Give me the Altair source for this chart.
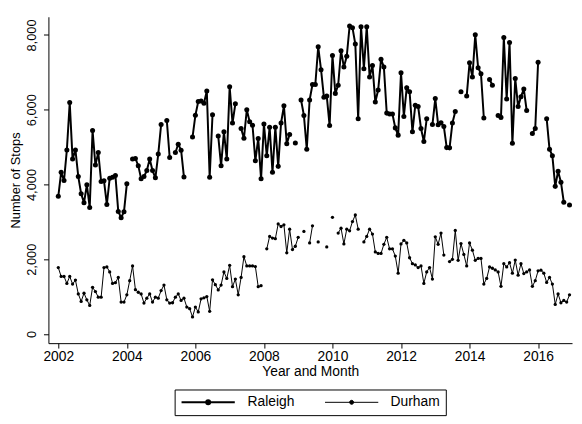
import altair as alt
import pandas as pd

# Monthly observations, Jan 2002 .. Dec 2016 (None = missing month)
raleigh = [
    3685, 4327, 4107, 4925, 6192, 4680, 4925, 4213, 3755, 3510, 3993, 3386,
    5444, 4520, 4855, 4081, 4100, 3465, 4169, 4195, 4240, 3280, 3113, 3272,
    4019, None, 4681, 4697, 4504, 4153, 4214, 4372, 4681, 4372, 4179, 4813,
    5604, None, 5710, 4723, None, 4855, 5077, 4918, 4200, None, None, 5270,
    5850, 6220, 6237, 6174, 6500, 4195, 5868, None, 5296, 4504, 5409, 4681,
    6615, 5646, 6158, None, 5500, 5235, 6000, 5680, 5585, 4635, 5233, 4151,
    5620, 4767, 5532, 4327, 5532, 4485, 5646, 6104, 5092, 5338, None, 5110,
    None, 6262, 5849, 4943, 6262, 6675, 6675, 7687, 7071, 6332, 6367, 5576,
    7449, 6438, 6658, 7581, 7142, 7432, 8241, 8197, 7757, 5761, 8223, 7098,
    8223, 6878, 7186, 6210, 6526, 7350, 7142, 5910, 5884, 5884, 5515, 5321,
    6992, 5822, 6588, 6482, 5409, 6120, 6086, 5499, 5150, 5762, None, 5604,
    6300, 5600, 5650, 5550, 4987, 4980, 5646, 5955, None, 6482, None, 6370,
    7256, 6878, 8004, 7124, 6966, 5778, None, 6808, 6658, None, 5849, 5796,
    7933, 6289, 7801, 5101, 6834, 6086, 6350, 6552, 5980, None, 5367, 5499,
    7273, None, None, 5762, 4944, 4768, 3950, 4354, 4063, 3528, None, 3449,
]
durham = [
    1777, 1539, 1539, 1354, 1539, 1337, 1442, 1073, 871, 1091, 915, 765,
    1249, 1135, 985, 985, 1777, 1794, 1662, 1354, 1372, 1513, 853, 853,
    1047, 1425, 1821, 1187, 1117, 1073, 827, 959, 1073, 853, 985, 959,
    1161, 1310, 915, 827, 836, 985, 1073, 897, 959, 721, 677, 457,
    721, 589, 941, 967, 1003, 607, 1451, 1319, 1179, 1310, 1662, 1486,
    1838, 1266, 1469, 1047, 1513, 2067, 1821, 1821, 1821, 1803, 1266, 1293,
    None, 2278, 2612, 2568, 2551, 2946, 2876, 2920, 2172, 2806, 2260, 2348,
    2586, None, 2744, None, 2436, 2894, None, 2463, None, None, 2331, None,
    3122, None, 2700, 2832, 2410, 2806, 2762, 3008, 3184, 2806, None, 2463,
    2612, 2806, 2674, 2195, 2155, 2155, 2400, 2586, 2278, 2278, 2084, 1627,
    2410, 2507, 2436, 2040, 1882, 1847, 1777, 1821, 1354, 1662, 1778, 1470,
    2600, 2400, 2700, 2111, None, 1937, 1997, 2770, 1970, 2419, 2128, 1821,
    2436, 2243, 1970, 2023, 2023, 1337, 1486, 1794, 1759, 1715, 1662, 1275,
    1882, 1794, 1909, 1627, 1979, 1574, 1882, 1618, 1662, 1715, 1275, 1425,
    1689, 1706, 1627, 1381, 1513, 1337, 792, 1073, 836, 897, 853, 1047,
]
cities = ["Raleigh", "Durham"]
x_ticks = [2002, 2004, 2006, 2008, 2010, 2012, 2014, 2016]
y_ticks = [0, 2000, 4000, 6000, 8000]

rows = []
for city, series in zip(cities, [raleigh, durham]):
    for i, v in enumerate(series):
        rows.append({"t": 2002 + i / 12.0, "city": city, "stops": v})
df = pd.DataFrame(rows)

FONT = "Liberation Sans"

x_enc = alt.X(
    "t:Q",
    scale=alt.Scale(domain=[2001.712, 2016.99], nice=False, zero=False),
    axis=alt.Axis(
        values=x_ticks, format="d", title="Year and Month", grid=False,
        tickSize=5, labelPadding=2, titlePadding=1,
        labelFontSize=14, titleFontSize=14, labelFont=FONT, titleFont=FONT,
        titleFontWeight="normal", domainColor="black", tickColor="black",
        labelColor="black", titleColor="black", labelFlush=False,
    ),
)
y_enc = alt.Y(
    "stops:Q",
    scale=alt.Scale(domain=[-245, 8488], nice=False, zero=False),
    axis=alt.Axis(
        values=y_ticks, format=",d", title="Number of Stops", grid=False,
        tickSize=5, labelPadding=5, titlePadding=3, labelAngle=270,
        labelAlign="center", labelBaseline="bottom",
        labelFontSize=13, titleFontSize=13, labelFont=FONT, titleFont=FONT,
        titleFontWeight="normal", domainColor="black", tickColor="black",
        labelColor="black", titleColor="black", labelFlush=False,
    ),
)

sym_path = "M-1,0L1,0M0.075,0A0.075,0.075,0,1,1,-0.075,0A0.075,0.075,0,1,1,0.075,0Z"
legend = alt.Legend(
    title=None, orient="none", legendX=128, legendY=378,
    direction="horizontal", strokeColor="black", padding=6,
    symbolType=sym_path, symbolSize=2916, clipHeight=14,
    symbolFillColor="black", symbolStrokeColor="black", symbolOpacity=1,
    labelOffset=12, columnPadding=30,
    labelFontSize=14, labelFont=FONT, labelColor="black",
)
color_enc = alt.Color(
    "city:N",
    scale=alt.Scale(domain=cities, range=["#000000", "#000000"]),
    legend=legend,
)
sw_enc = alt.StrokeWidth(
    "city:N", scale=alt.Scale(domain=cities, range=[2.0, 1.0]), legend=legend
)

lines = alt.Chart(df).mark_line(invalid="break-paths-filter-domains").encode(
    x=x_enc, y=y_enc, color=color_enc, strokeWidth=sw_enc, detail="city:N",
)
pts_r = alt.Chart(df).transform_filter(
    "isValid(datum.stops) && datum.city === 'Raleigh'"
).mark_circle(opacity=1, color="#000000", size=26).encode(x=x_enc, y=y_enc)
pts_d = alt.Chart(df).transform_filter(
    "isValid(datum.stops) && datum.city === 'Durham'"
).mark_circle(opacity=1, color="#000000", size=11).encode(x=x_enc, y=y_enc)

chart = (
    alt.layer(lines, pts_r, pts_d)
    .properties(
        width=531, height=331,
        autosize=alt.AutoSizeParams(type="none"),
        padding={"left": 41, "top": 6, "right": 2, "bottom": 72},
        background="white",
    )
    .configure_view(stroke=None)
)
chart.save("out.html", embed_options={"renderer": "svg", "actions": False})
